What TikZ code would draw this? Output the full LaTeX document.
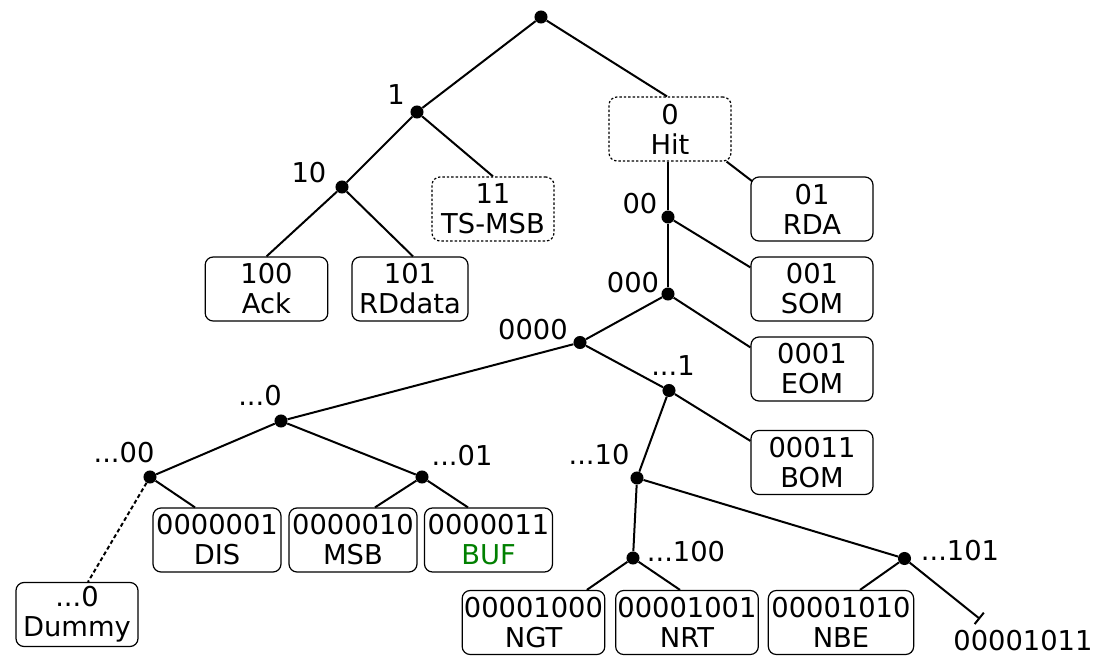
\documentclass[tikz,border=0pt]{standalone}
\usepackage{fontspec}
\setmainfont{DejaVu Sans}
\usetikzlibrary{arrows.meta}
\definecolor{bufgreen}{RGB}{0,128,0}
\begin{document}
\begin{tikzpicture}[x=0.75pt,y=-0.75pt,
  every node/.style={font=\fontsize{20.5}{22.5}\selectfont},
  leaf/.style={draw, rounded corners=6pt, line width=0.9pt, align=center, inner sep=1pt, minimum height=48pt, minimum width=91.5pt},
  dleaf/.style={leaf, dash pattern=on 1.8pt off 1.5pt},
  dot/.style={circle, fill, inner sep=0pt, minimum size=9.8pt},
  lbl/.style={inner sep=0pt},
  edge/.style={line width=1.5pt}]
\useasboundingbox (0,0) rectangle (1108,657);
% inner nodes
\node[dot] (r) at (541,17) {};
\node[dot] (n1) at (417,112) {};
\node[dot] (n10) at (342,187) {};
\node[dot] (n00) at (668,217) {};
\node[dot] (n000) at (668,294) {};
\node[dot] (n0000) at (580,342.5) {};
\node[dot] (nx1) at (669,390.5) {};
\node[dot] (nx0) at (281,421) {};
\node[dot] (nx00) at (150,477) {};
\node[dot] (nx01) at (422,477) {};
\node[dot] (nx10) at (637,478) {};
\node[dot] (nx100) at (633,558) {};
\node[dot] (nx101) at (904.5,558.5) {};
% leaves
\node[dleaf] (hit) at (670,129) {0\\Hit};
\node[dleaf] (ts) at (493,209) {11\\TS-MSB};
\node[leaf, minimum width=92pt] (ack) at (266.5,289) {100\\Ack};
\node[leaf, minimum width=87pt] (rdd) at (410,289) {101\\RDdata};
\node[leaf] (rda) at (812,209) {01\\RDA};
\node[leaf] (som) at (812,289) {001\\SOM};
\node[leaf] (eom) at (812,369) {0001\\EOM};
\node[leaf] (bom) at (812,462.5) {00011\\BOM};
\node[leaf] (dummy) at (77,614.5) {...0\\Dummy};
\node[leaf, minimum width=96pt] (dis) at (217,540) {0000001\\DIS};
\node[leaf, minimum width=96pt] (msb) at (353,540) {0000010\\MSB};
\node[leaf, minimum width=96pt] (buf) at (488.5,540) {0000011\\\textcolor{bufgreen}{BUF}};
\node[leaf, minimum width=107pt] (ngt) at (533.5,622.5) {00001000\\NGT};
\node[leaf, minimum width=107pt] (nrt) at (687,622.5) {00001001\\NRT};
\node[leaf, minimum width=109pt] (nbe) at (841,622.5) {00001010\\NBE};
% labels
\node[lbl] (l1) at (396,95) {1};
\node[lbl] (l10) at (309,172.5) {10};
\node[lbl] (l00) at (640,203.5) {00};
\node[lbl] (l000) at (633,283) {000};
\node[lbl] (l0000) at (533,330) {0000};
\node[lbl] (lx1) at (673,366) {...1};
\node[lbl] (lx0) at (260,396) {...0};
\node[lbl] (lx00) at (124,453) {...00};
\node[lbl] (lx01) at (462,456) {...01};
\node[lbl] (lx10) at (599,455) {...10};
\node[lbl] (lx100) at (686,551.5) {...100};
\node[lbl] (lx101) at (960,551) {...101};
\node[lbl] (l1011) at (1023,641) {00001011};
% edges
\draw[edge] (r) -- (n1);
\draw[edge] (r) -- ([xshift=-2.25pt]hit.north);
\draw[edge] (n1) -- (n10);
\draw[edge] (n1) -- (ts.north);
\draw[edge] (n10) -- (ack.north);
\draw[edge] (n10) -- ([xshift=2.25pt]rdd.north);
\draw[edge] ([xshift=-1.5pt]hit.south) -- (n00);
\draw[edge] ([xshift=-3.75pt]hit.south east) -- ([xshift=1.5pt,yshift=-3.75pt]rda.north west);
\draw[edge] (n00) -- (n000);
\draw[edge] (n00) -- ([yshift=-8.25pt]som.north west);
\draw[edge] (n000) -- (n0000);
\draw[edge] (n000) -- ([yshift=-8.25pt]eom.north west);
\draw[edge] (n0000) -- (nx1);
\draw[edge] (nx1) -- ([yshift=-8.25pt]bom.north west);
\draw[edge] (n0000) -- (nx0);
\draw[edge] (nx0) -- (nx00);
\draw[edge] (nx0) -- (nx01);
\draw[edge, dash pattern=on 3pt off 2pt] (nx00) -- ([xshift=8.25pt]dummy.north);
\draw[edge] (nx00) -- ([xshift=-16.5pt]dis.north);
\draw[edge] (nx01) -- ([xshift=16.5pt]msb.north);
\draw[edge] (nx01) -- ([xshift=-15.4pt]buf.north);
\draw[edge] (nx1) -- (nx10);
\draw[edge] (nx10) -- (nx100);
\draw[edge] (nx10) -- (nx101);
\draw[edge] (nx100) -- ([xshift=40pt]ngt.north);
\draw[edge] (nx100) -- ([xshift=-5.25pt]nrt.north);
\draw[edge] (nx101) -- ([xshift=14.25pt]nbe.north);
\coordinate (end1011) at (980,619);
\draw[edge, -{Bar[width=11pt, line width=1.5pt]}] (nx101) -- (end1011);
\end{tikzpicture}
\end{document}
